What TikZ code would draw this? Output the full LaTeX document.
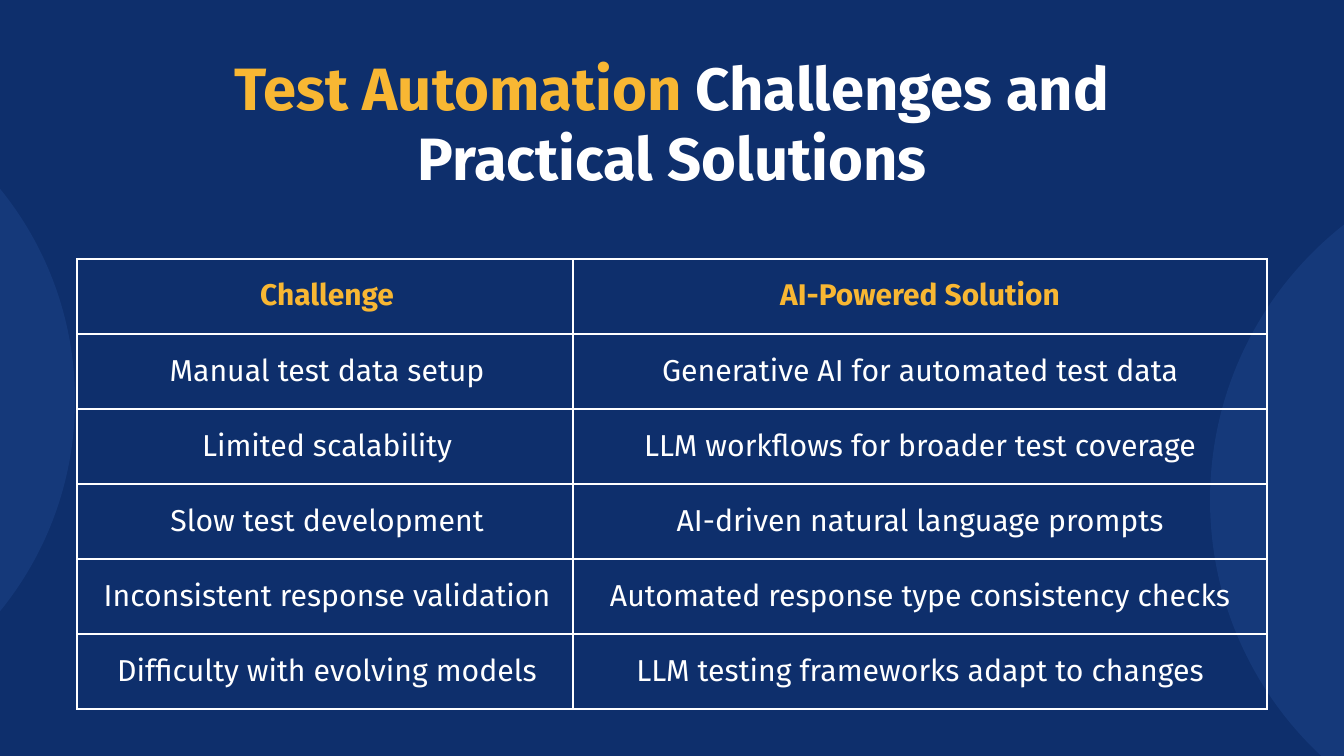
\documentclass[tikz,border=0pt]{standalone}
\usepackage{fontspec}
\setmainfont{Fira Sans}
\definecolor{bg}{HTML}{0E2F6C}
\definecolor{bgl}{HTML}{15397A}
\definecolor{gold}{HTML}{F8B733}
\begin{document}
\begin{tikzpicture}[x=0.02cm,y=-0.02cm,
  cell/.style={font=\fontsize{17.2}{19}\selectfont, text=white, anchor=base},
  head/.style={font=\fontsize{17}{19}\selectfont\bfseries, text=gold, anchor=base},
  grid/.style={draw=white, line width=1.2pt}]
\fill[bg] (0,0) rectangle (1344,756);
\begin{scope}
\clip (0,0) rectangle (1344,756);
\fill[bgl] (-260,400) circle (335);
\fill[bgl] (1560,500) circle (350);
\end{scope}
\useasboundingbox (0,0) rectangle (1344,756);
\node[font=\fontsize{34}{40}\selectfont\bfseries, text=white, align=center] (title) at (672,122)
  {\textcolor{gold}{Test Automation} Challenges and\\Practical Solutions};
\draw[grid] (77,259) rectangle (1267,709);
\draw[grid] (573,259) -- (573,709);
\foreach \y in {334,409,484,559,634} \draw[grid] (77,\y) -- (1267,\y);
\node[head] (h1) at (327,306) {Challenge};
\node[head] (h2) at (920,306) {AI-Powered Solution};
\foreach \i/\a/\b in {1/Manual test data setup/Generative AI for automated test data,
  2/Limited scalability/LLM workflows for broader test coverage,
  3/Slow test development/AI-driven natural language prompts,
  4/Inconsistent response validation/Automated response type consistency checks,
  5/Difficulty with evolving models/LLM testing frameworks adapt to changes}{
  \node[cell] (a\i) at (327,306+75*\i) {\a};
  \node[cell] (b\i) at (920,306+75*\i) {\b};
}
\end{tikzpicture}
\end{document}
